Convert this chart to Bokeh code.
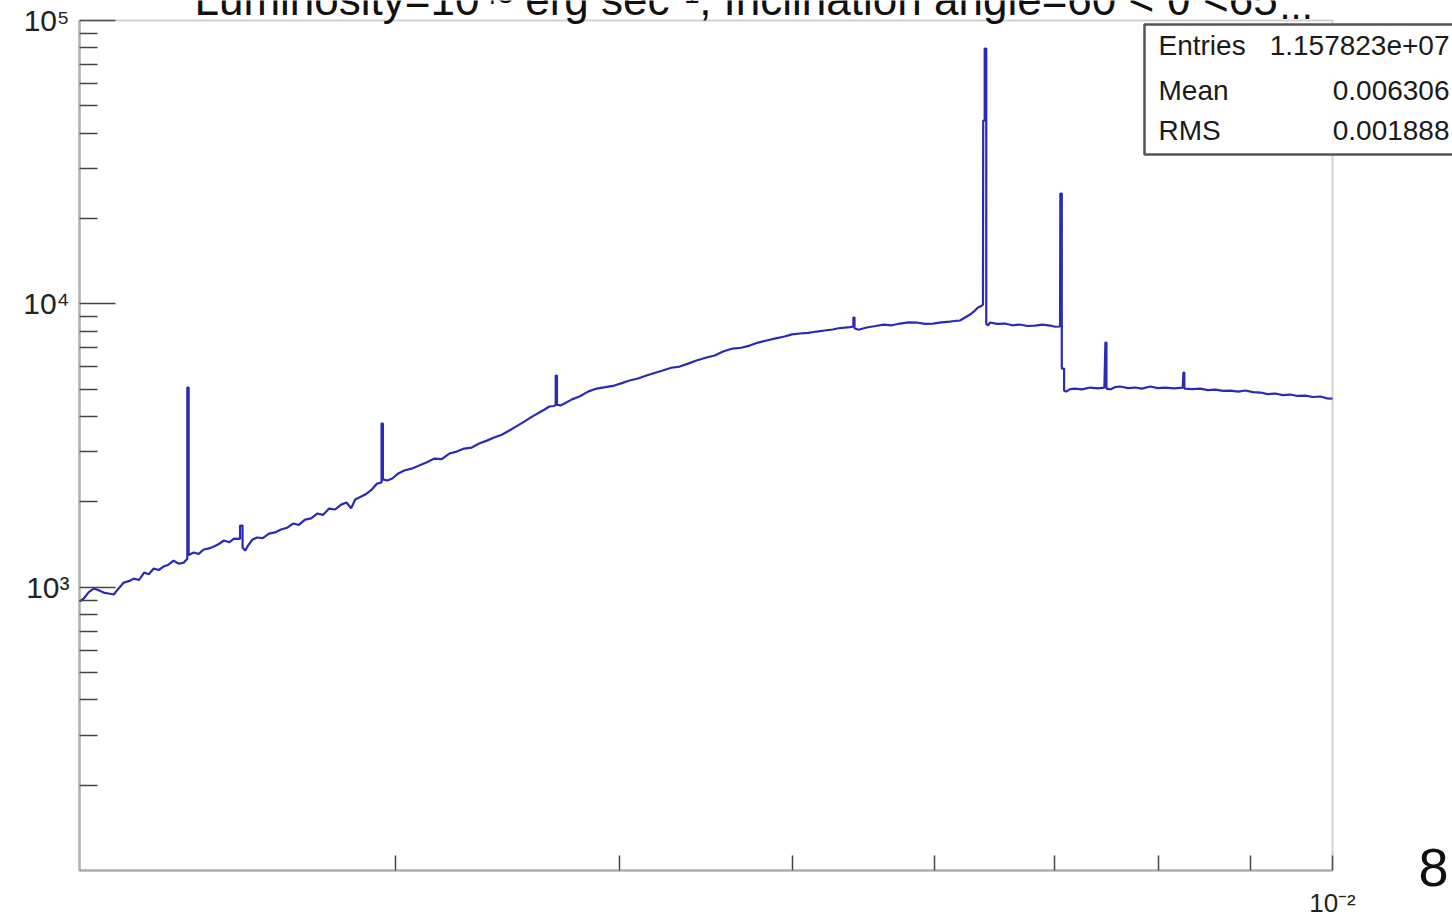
import math
from bokeh.plotting import figure
from bokeh.models import Range1d, FixedTicker, Label, BoxAnnotation, LogAxis
from bokeh.embed import file_html
from bokeh.resources import INLINE

# ---- data (x: energy axis units, y: counts per bin) ----
energy = [
    0.002000, 0.002011, 0.002024, 0.002037, 0.002050, 0.002063, 0.002076, 0.002090,
    0.002103, 0.002117, 0.002131, 0.002145, 0.002159, 0.002173, 0.002186, 0.002200,
    0.002214, 0.002228, 0.002242, 0.002257, 0.002272, 0.002287,
    0.002297, 0.002297, 0.002301, 0.002301,
    0.002316, 0.002331, 0.002346, 0.002362, 0.002377, 0.002392, 0.002408, 0.002424,
    0.002439, 0.002458, 0.002458, 0.002466, 0.002466, 0.002474, 0.002485, 0.002497,
    0.002512, 0.002531, 0.002551, 0.002571, 0.002591, 0.002611, 0.002631, 0.002651,
    0.002672, 0.002693, 0.002714, 0.002735, 0.002756, 0.002777, 0.002799, 0.002818,
    0.002835, 0.002850, 0.002868, 0.002887, 0.002909, 0.002931, 0.002946,
    0.002948, 0.002948, 0.002953, 0.002953,
    0.002970, 0.002989, 0.003012, 0.003035, 0.003064, 0.003094, 0.003125, 0.003155,
    0.003185, 0.003216, 0.003247, 0.003278, 0.003310, 0.003342, 0.003375, 0.003407,
    0.003440, 0.003474, 0.003507, 0.003541, 0.003575, 0.003610, 0.003633, 0.003657,
    0.003680,
    0.003687, 0.003687, 0.003693, 0.003693,
    0.003710, 0.003729, 0.003765, 0.003802, 0.003843, 0.003886, 0.003930, 0.003976,
    0.004014, 0.004054, 0.004098, 0.004143, 0.004186, 0.004230, 0.004277, 0.004324,
    0.004371, 0.004418, 0.004470, 0.004522, 0.004575, 0.004628, 0.004679, 0.004730,
    0.004782, 0.004835, 0.004891, 0.004947, 0.004995, 0.005044, 0.005100, 0.005155,
    0.005208, 0.005262, 0.005303, 0.005344, 0.005380,
    0.005404, 0.005404, 0.005412, 0.005412,
    0.005440, 0.005498, 0.005560, 0.005620, 0.005678, 0.005737, 0.005800, 0.005864,
    0.005925, 0.005986, 0.006050, 0.006117, 0.006157, 0.006197, 0.006238, 0.006278,
    0.006310, 0.006342, 0.006365, 0.006383,
    0.006385, 0.006397, 0.006397, 0.006410, 0.006410,
    0.006425, 0.006440, 0.006500, 0.006565, 0.006628, 0.006693, 0.006758, 0.006824,
    0.006890, 0.006958, 0.007003, 0.007047,
    0.007050, 0.007063, 0.007063, 0.007084, 0.007084,
    0.007102, 0.007140, 0.007184, 0.007250, 0.007325, 0.007400, 0.007460,
    0.007470, 0.007480, 0.007480,
    0.007520, 0.007560, 0.007613, 0.007690, 0.007760, 0.007830, 0.007912, 0.007990,
    0.008067, 0.008160, 0.008250,
    0.008257, 0.008267, 0.008267,
    0.008350, 0.008439, 0.008520, 0.008602, 0.008690, 0.008770, 0.008860, 0.008941,
    0.009030, 0.009116, 0.009200, 0.009294, 0.009380, 0.009474, 0.009560, 0.009658,
    0.009750, 0.009847, 0.009930, 0.010000,
]
counts = [
    890, 912, 960, 989, 975, 957, 950, 942,
    990, 1038, 1050, 1072, 1060, 1126, 1110, 1163,
    1150, 1182, 1200, 1241, 1210, 1221,
    1260, 5065, 5065, 1300,
    1325, 1310, 1358, 1370, 1391, 1420, 1461, 1440,
    1484, 1480, 1650, 1650, 1380, 1346, 1410, 1470,
    1497, 1490, 1546, 1560, 1597, 1620, 1677, 1660,
    1732, 1750, 1819, 1800, 1894, 1880, 1956, 1990,
    1900, 2040, 2080, 2123, 2200, 2321, 2340,
    2340, 3780, 3780, 2400,
    2379, 2418, 2520, 2580, 2620, 2687, 2760, 2844,
    2830, 2962, 3010, 3085, 3110, 3213, 3290, 3373,
    3450, 3572, 3700, 3841, 3990, 4134, 4230, 4341,
    4360,
    4400, 5583, 5583, 4400,
    4380, 4448, 4600, 4709, 4900, 5023, 5080, 5147,
    5250, 5362, 5450, 5583, 5700, 5816, 5950, 6007,
    6150, 6308, 6450, 6569, 6800, 6953, 7000, 7124,
    7300, 7422, 7550, 7666, 7800, 7856, 7900, 7984,
    8050, 8116, 8200, 8248, 8280,
    8320, 8945, 8945, 8200,
    8100, 8248, 8350, 8451, 8400, 8520, 8600, 8590,
    8500, 8520, 8600, 8660, 8700, 8732, 8950, 9167,
    9400, 9703, 9800, 9943,
    44360, 44360, 79640, 79640, 8500,
    8400, 8590, 8500, 8520, 8400, 8451, 8350, 8383,
    8450, 8383, 8300, 8316,
    24510, 24510, 5909, 5909, 4943,
    4900, 5000, 5023, 4990, 5065, 5030, 5065,
    7302, 7302, 5023,
    4990, 5080, 5107, 5040, 5065, 5020, 5107, 5040,
    5065, 5030, 5065,
    5721, 5721, 5023,
    5000, 5023, 4960, 4983, 4930, 4943, 4900, 4943,
    4880, 4863, 4800, 4824, 4760, 4785, 4730, 4745,
    4690, 4709, 4640, 4631,
]

x_axis_range = [0.002, 0.01]
y_axis_range = [100, 1e5]
y_major_ticks = [1e3, 1e4, 1e5]
y_minor_ticks = [200, 300, 400, 500, 600, 700, 800, 900,
                 2000, 3000, 4000, 5000, 6000, 7000, 8000, 9000,
                 20000, 30000, 40000, 50000, 60000, 70000, 80000, 90000]
y_tick_labels = {1000: "10³", 10000: "10⁴", 100000: "10⁵"}
x_major_ticks = [0.01]
x_minor_ticks = [0.003, 0.004, 0.005, 0.006, 0.007, 0.008, 0.009]
x_tick_labels = {0.01: "10⁻²"}

title_text = "Luminosity=10⁴³ erg sec⁻¹, Inclination angle=60 < θ <65"
stat_names = ["Entries", "Mean", "RMS"]
stat_values = ["1.157823e+07", "0.006306", "0.001888"]

# ---- page geometry (pixels) ----
W, H = 1452, 920
FRAME_L, FRAME_R, FRAME_T, FRAME_B = 79, 1332, 20, 870

lx0, lx1 = math.log10(x_axis_range[0]), math.log10(x_axis_range[1])
ly0, ly1 = math.log10(y_axis_range[0]), math.log10(y_axis_range[1])
ppd_x = (FRAME_R - FRAME_L) / (lx1 - lx0)
ppd_y = (FRAME_B - FRAME_T) / (ly1 - ly0)


def px_x(px):
    return 10 ** (lx0 + (px - FRAME_L) / ppd_x)


def px_y(py):
    return 10 ** (ly0 + (FRAME_B - py) / ppd_y)


def baseline_y(py, size):
    # labels come out ~0.37 em lower than the requested baseline; compensate
    return px_y(py - 0.37 * size)


FONT = "Liberation Sans"
AXIS_GREY = "#666666"

p = figure(
    width=W, height=H, title=None,
    x_axis_type="log", y_axis_type="log",
    x_axis_location=None, y_axis_location=None,
    x_range=Range1d(px_x(0), px_x(W)), y_range=Range1d(px_y(H), px_y(0)),
    output_backend="svg", toolbar_location=None,
    min_border=0, min_border_left=0, min_border_right=0,
    min_border_top=0, min_border_bottom=0,
)
p.background_fill_color = "white"
p.border_fill_color = "white"
p.outline_line_color = None
p.grid.visible = False

p.line(energy, counts, line_color="#2a2ab4", line_width=2.2)

# frame of the histogram
p.add_layout(BoxAnnotation(left=x_axis_range[0], right=x_axis_range[1],
                           bottom=y_axis_range[0], top=y_axis_range[1],
                           fill_color=None, line_color="#6a6a6a", line_width=2))
p.add_layout(BoxAnnotation(left=x_axis_range[0], right=x_axis_range[0],
                           bottom=y_axis_range[0], top=y_axis_range[1],
                           fill_color=None, line_color=AXIS_GREY, line_width=3))
p.add_layout(BoxAnnotation(left=x_axis_range[0], right=x_axis_range[1],
                           bottom=y_axis_range[0], top=y_axis_range[0],
                           fill_color=None, line_color=AXIS_GREY, line_width=3))

# y axis
ya = LogAxis(fixed_location=x_axis_range[0],
             ticker=FixedTicker(ticks=y_major_ticks, minor_ticks=y_minor_ticks))
ya.major_label_overrides = y_tick_labels
ya.axis_line_color = None
ya.major_tick_in = 36
ya.major_tick_out = 0
ya.minor_tick_in = 18
ya.minor_tick_out = 0
ya.major_tick_line_color = "#444444"
ya.minor_tick_line_color = "#444444"
ya.major_tick_line_width = 1.5
ya.minor_tick_line_width = 1.5
ya.major_label_text_font = FONT
ya.major_label_text_font_size = "30px"
ya.major_label_text_color = "#222222"
ya.major_label_standoff = 10
p.add_layout(ya, "left")

# x axis
xa = LogAxis(fixed_location=y_axis_range[0],
             ticker=FixedTicker(ticks=x_major_ticks, minor_ticks=x_minor_ticks))
xa.major_label_overrides = x_tick_labels
xa.axis_line_color = None
xa.major_tick_in = 15
xa.major_tick_out = 0
xa.minor_tick_in = 15
xa.minor_tick_out = 0
xa.major_tick_line_color = "#444444"
xa.minor_tick_line_color = "#444444"
xa.major_tick_line_width = 1.5
xa.minor_tick_line_width = 1.5
xa.major_label_text_font = FONT
xa.major_label_text_font_size = "26px"
xa.major_label_text_color = "#222222"
xa.major_label_standoff = 17
p.add_layout(xa, "below")

# title (cut at top of the page, as in the reference)
p.add_layout(Label(x=px_x(194), y=baseline_y(15, 44), text=title_text, text_font=FONT,
                   text_font_size="44px", text_color="#111111",
                   text_align="left", text_baseline="alphabetic"))
p.add_layout(Label(x=px_x(1279), y=baseline_y(19, 40), text="...", text_font=FONT,
                   text_font_size="40px", text_color="#111111",
                   text_align="left", text_baseline="alphabetic"))

# statistics box
p.add_layout(BoxAnnotation(left=px_x(1144), right=px_x(W + 20), top=px_y(24), bottom=px_y(154),
                           fill_color="white", fill_alpha=1.0,
                           line_color="#555555", line_width=2.5, line_alpha=1.0))
for name, val, yb in zip(stat_names, stat_values, [55, 100, 140]):
    p.add_layout(Label(x=px_x(1158), y=baseline_y(yb, 28), text=name, text_font=FONT,
                       text_font_size="28px", text_color="#1a1a1a",
                       text_align="left", text_baseline="alphabetic"))
    p.add_layout(Label(x=px_x(1449), y=baseline_y(yb, 28), text=val, text_font=FONT,
                       text_font_size="28px", text_color="#1a1a1a",
                       text_align="right", text_baseline="alphabetic"))

# stray page character at the lower right
p.add_layout(Label(x=px_x(1433), y=baseline_y(887, 54), text="8", text_font=FONT,
                   text_font_size="54px", text_color="#111111",
                   text_align="center", text_baseline="alphabetic"))

open("out.html", "w").write(file_html(p, INLINE))
